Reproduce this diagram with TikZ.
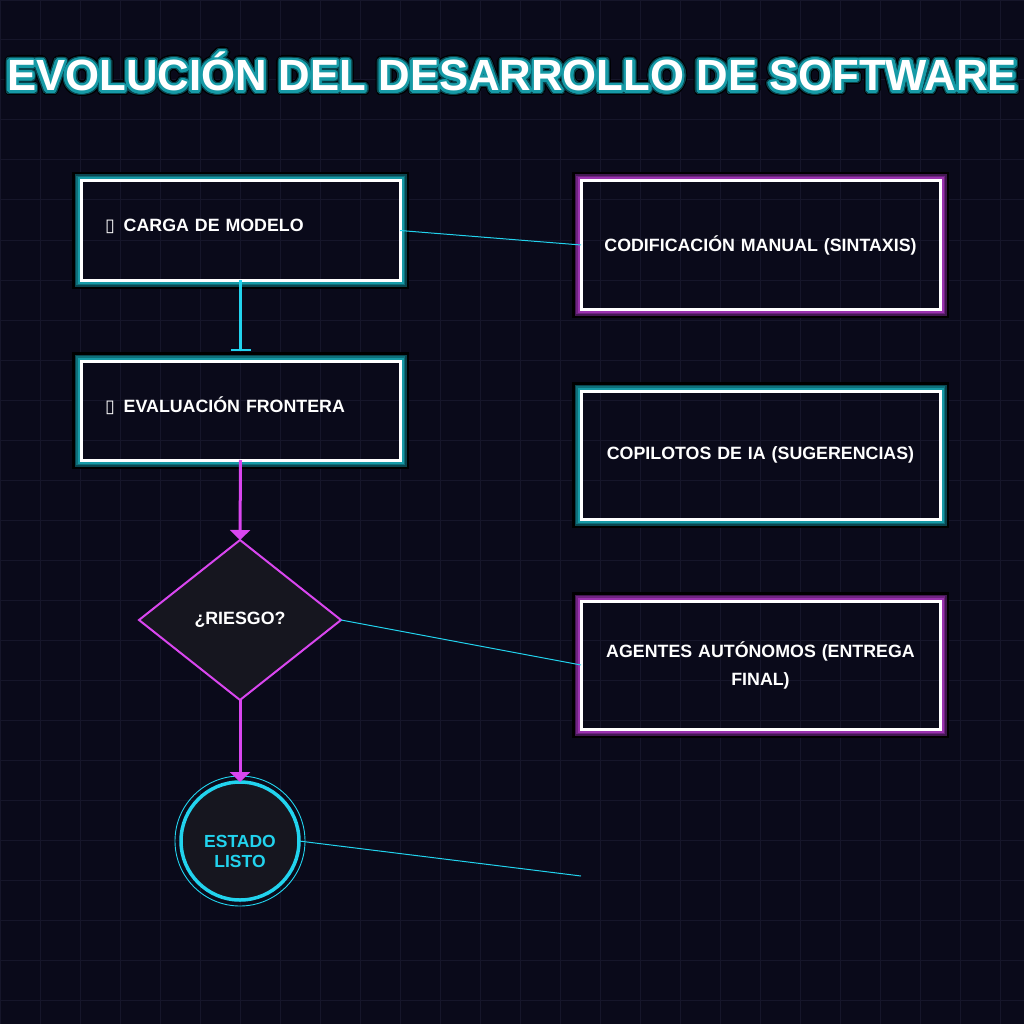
\documentclass[tikz,border=0pt]{standalone}
\usepackage{fontspec}
\setmainfont{Liberation Sans}
\newfontfamily\glyphfont{DejaVu Sans}
\usepackage{contour}
\usetikzlibrary{shapes.geometric, arrows.meta}

\definecolor{bgnavy}{HTML}{0A0A1A}
\definecolor{gridnavy}{HTML}{16162A}
\definecolor{neoncyan}{HTML}{22D3EE}
\definecolor{neonpink}{HTML}{D946EF}
\definecolor{shapefill}{HTML}{16161F}
\definecolor{tealhi}{HTML}{169AA6}
\definecolor{tealmid}{HTML}{0F6F79}
\definecolor{tealdeep}{HTML}{0A4650}
\definecolor{purphi}{HTML}{9A32AE}
\definecolor{purpmid}{HTML}{6E2480}
\definecolor{purpdeep}{HTML}{431852}

% title: glow layers behind the white letters
\contournumber{32}
\newcommand{\neontitle}[1]{%
  \rlap{\contourlength{5pt}\contour{black}{#1}}%
  \rlap{\contourlength{3.8pt}\contour{tealdeep}{#1}}%
  \contourlength{2.4pt}\contour{tealhi}{#1}}

\tikzset{
  glowframe/.style n args={3}{append after command={\pgfextra{
    \draw[line width=2.5pt, black] ([shift={(-7.75pt,-7.75pt)}]\tikzlastnode.south west) rectangle ([shift={(7.75pt,7.75pt)}]\tikzlastnode.north east);
    \draw[line width=1.5pt, #3] ([shift={(-5.75pt,-5.75pt)}]\tikzlastnode.south west) rectangle ([shift={(5.75pt,5.75pt)}]\tikzlastnode.north east);
    \draw[line width=1.5pt, #2] ([shift={(-4.25pt,-4.25pt)}]\tikzlastnode.south west) rectangle ([shift={(4.25pt,4.25pt)}]\tikzlastnode.north east);
    \draw[line width=2pt, #1] ([shift={(-2.5pt,-2.5pt)}]\tikzlastnode.south west) rectangle ([shift={(2.5pt,2.5pt)}]\tikzlastnode.north east);
  }}},
  cyanglow/.style={glowframe={tealhi}{tealmid}{tealdeep}},
  pinkglow/.style={glowframe={purphi}{purpmid}{purpdeep}},
  boxtext/.style={text=white, font=\bfseries\fontsize{17.8}{28}\selectfont},
  stagebox/.style={boxtext, draw=white, line width=3pt, outer sep=0pt,
    minimum width=319pt, minimum height=99pt, text width=271pt, align=left,
    text height=13pt, text depth=10pt, cyanglow},
  phasebox/.style={boxtext, draw=white, line width=3pt, outer sep=0pt,
    minimum width=359pt, minimum height=128pt, text width=330pt, align=center},
  decision/.style={diamond, boxtext, draw=neonpink, line width=2pt, fill=shapefill,
    minimum width=202pt, minimum height=160pt, inner sep=0pt, outer sep=0pt},
  endstate/.style={circle, draw=neoncyan, line width=3.5pt, fill=shapefill,
    minimum size=118pt, inner sep=0pt, outer sep=0pt,
    text height=12.5pt, text depth=0pt,
    text=neoncyan, font=\bfseries\fontsize{17.5}{20}\selectfont,
    append after command={\pgfextra{\draw[neoncyan, line width=0.9pt] (\tikzlastnode.center) circle[radius=65pt];}}},
  flowcyan/.style={neoncyan, line width=3pt, -{Bar[width=20pt, line width=2.5pt]}},
  flowpink/.style={neonpink, line width=3pt, -{Triangle[width=20pt, length=10pt]}},
  linkline/.style={neoncyan, line width=1pt}
}

\begin{document}
\begin{tikzpicture}[x=1pt, y=-1pt]
   % Background and grid
   \fill[bgnavy] (0,0) rectangle (1024,1024);
   \useasboundingbox (0,0) rectangle (1024,1024);
   \draw[gridnavy, line width=1pt] (0,0) grid[step=40pt] (1024,1024);

   % Title
   \node[anchor=base, text=white, font=\bfseries\fontsize{43.7}{50}\selectfont] (title) at (512,91)
      {\neontitle{EVOLUCIÓN DEL DESARROLLO DE SOFTWARE}};

   % Left column: flow
   \node[stagebox] (load) at (240.5,230.5) {{\glyphfont\mdseries ▯}\kern3pt{} CARGA DE MODELO};
   \node[stagebox] (eval) at (240.5,410.5) {{\glyphfont\mdseries ▯}\kern3pt{} EVALUACIÓN FRONTERA};
   \node[decision] (risk) at (240,620) {¿RIESGO?};
   \node[endstate] (ready) at (240,841) {\parbox[t]{100pt}{\centering ESTADO\\LISTO}};

   % Right column: stages
   \node[phasebox, pinkglow] (manual) at (760.5,245) {CODIFICACIÓN MANUAL (SINTAXIS)};
   \node[phasebox, cyanglow] (copilot) at (760.5,455) {COPILOTOS DE IA (SUGERENCIAS)};
   \node[phasebox, pinkglow] (agents) at (760.5,665) {AGENTES AUTÓNOMOS (ENTREGA\\FINAL)};
   \coordinate (nextstage) at (581,876);

   % Flow arrows
   \draw[flowcyan, shorten >=10pt] (load.south) -- (eval.north);
   \draw[flowpink] (eval.south) -- (risk.north);
   \draw[flowpink] (risk.south) -- (ready.north);

   % Links to the stages
   \draw[linkline] (load.east) -- (manual.west);
   \draw[linkline] (risk.east) -- (agents.west);
   \draw[linkline] (ready.east) -- (nextstage);
\end{tikzpicture}
\end{document}
